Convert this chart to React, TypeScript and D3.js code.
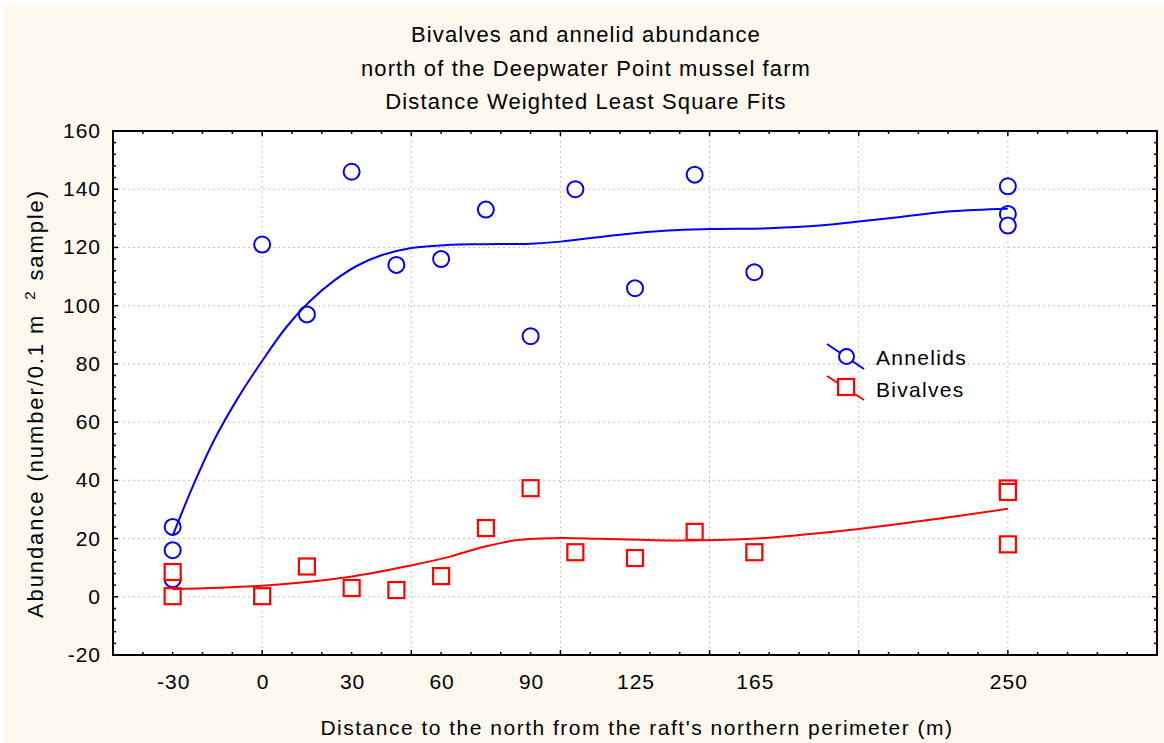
import React from "react";
import * as d3 from "d3";

// ---- Data ----
const annelidX = [-30, -30, -30, 0, 15, 30, 45, 60, 75, 90, 105, 125, 145, 165, 250, 250, 250];
const annelidY = [24, 16, 6, 121, 97, 146, 114, 116, 133, 89.5, 140, 106, 145, 111.5, 141, 131.5, 127.5];

const bivalveX = [-30, -30, 0, 15, 30, 45, 60, 75, 90, 105, 125, 145, 165, 250, 250, 250];
const bivalveY = [8.5, 0.2, 0.2, 10.4, 3, 2.3, 7.1, 23.6, 37.3, 15.3, 13.3, 22.3, 15.3, 37.2, 36, 18];

// DWLS fitted curves
const annelidFitX = [-30, -23, -16, -8, 0, 8, 16, 24, 32, 40, 50, 63, 74, 90, 100, 120, 136, 150, 170, 187, 200, 215, 231, 250];
const annelidFitY = [21, 38.5, 54, 68.5, 81, 92.5, 101.5, 108.5, 113.8, 117.3, 119.8, 120.9, 121.1, 121.3, 122, 124.4, 125.8, 126.3, 126.6, 127.5, 128.9, 130.6, 132.4, 133.3];

const bivalveFitX = [-30, 0, 29, 49, 63, 74, 85, 100, 113, 120, 142, 164, 181, 200, 226, 250];
const bivalveFitY = [2.6, 3.8, 6.8, 10.6, 13.8, 17.1, 19.4, 20.2, 19.9, 19.8, 19.3, 19.9, 21.3, 23.3, 26.7, 30.2];

const xTickLabels = [-30, 0, 30, 60, 90, 125, 165, 250];
const yTickLabels = [-20, 0, 20, 40, 60, 80, 100, 120, 140, 160];

const titleLines = [
  "Bivalves and annelid abundance",
  "north of the Deepwater Point mussel farm",
  "Distance Weighted Least Square Fits",
];
const legendNames = ["Annelids", "Bivalves"];

const W = 1164;
const H = 743;
const FONT = "'Liberation Sans', Arial, sans-serif";

export default function App() {
  const left = 113, right = 1157, top = 131, bottom = 655;
  const x = d3.scaleLinear().domain([-50, 300]).range([left, right]);
  const y = d3.scaleLinear().domain([-20, 160]).range([bottom, top]);

  const line = d3
    .line<[number, number]>()
    .x((d) => x(d[0]))
    .y((d) => y(d[1]))
    .curve(d3.curveCatmullRom.alpha(0.5));

  const annFit = annelidFitX.map((v, i) => [v, annelidFitY[i]] as [number, number]);
  const bivFit = bivalveFitX.map((v, i) => [v, bivalveFitY[i]] as [number, number]);

  const xMinor = d3.range(-50, 301, 10);
  const xMajor = d3.range(-50, 301, 50);
  const yMinor = d3.range(-20, 161, 4);
  const yMajor = d3.range(-20, 161, 20);
  const xGrid = d3.range(0, 251, 50);
  const yGrid = d3.range(0, 141, 20);

  const blue = "#0000ff";
  const red = "#ff0000";
  const sq = 16;

  return (
    <div style={{ position: "absolute", left: 0, top: 0 }}>
      <svg width={W} height={H} style={{ display: "block" }} fontFamily={FONT}>
        <rect x={0} y={0} width={W} height={H} fill="#ffffff" />
        <rect x={4} y={5} width={W - 4} height={H - 5} fill="#fdf9ef" />
        <rect x={left} y={top} width={right - left} height={bottom - top} fill="#ffffff" />

        {/* grid */}
        {xGrid.map((v) => (
          <line key={"gx" + v} x1={x(v)} x2={x(v)} y1={top} y2={bottom} stroke="#c4c4c4" strokeWidth={1} strokeDasharray="2,3" />
        ))}
        {yGrid.map((v) => (
          <line key={"gy" + v} x1={left} x2={right} y1={y(v)} y2={y(v)} stroke="#c4c4c4" strokeWidth={1} strokeDasharray="2,3" />
        ))}

        {/* ticks */}
        {xMinor.map((v) => {
          const len = xMajor.includes(v) ? 5 : 3;
          return (
            <g key={"tx" + v}>
              <line x1={x(v)} x2={x(v)} y1={bottom} y2={bottom - len} stroke="#000" strokeWidth={1.5} />
              <line x1={x(v)} x2={x(v)} y1={top} y2={top + len} stroke="#000" strokeWidth={1.5} />
            </g>
          );
        })}
        {yMinor.map((v) => {
          const len = yMajor.includes(v) ? 5 : 3;
          return (
            <g key={"ty" + v}>
              <line x1={left} x2={left + len} y1={y(v)} y2={y(v)} stroke="#000" strokeWidth={1.5} />
              <line x1={right} x2={right - len} y1={y(v)} y2={y(v)} stroke="#000" strokeWidth={1.5} />
            </g>
          );
        })}

        {/* points: annelids */}
        {annelidX.map((v, i) => (
          <circle key={"a" + i} cx={x(v)} cy={y(annelidY[i])} r={8} fill="#ffffff" stroke={blue} strokeWidth={2} />
        ))}
        {/* points: bivalves */}
        {bivalveX.map((v, i) => (
          <rect key={"b" + i} x={x(v) - sq / 2} y={y(bivalveY[i]) - sq / 2} width={sq} height={sq} fill="#ffffff" stroke={red} strokeWidth={2.2} />
        ))}

        {/* fits */}
        <path d={line(annFit) || ""} fill="none" stroke={blue} strokeWidth={2} />
        <path d={line(bivFit) || ""} fill="none" stroke={red} strokeWidth={2} />

        {/* frame */}
        <rect x={left} y={top} width={right - left} height={bottom - top} fill="none" stroke="#000" strokeWidth={2} />

        {/* y tick labels */}
        {yTickLabels.map((v) => (
          <text key={"yl" + v} x={101} y={y(v) + 7} textAnchor="end" fontSize={21} letterSpacing={1} fill="#000">
            {v}
          </text>
        ))}
        {/* x tick labels */}
        {xTickLabels.map((v) => (
          <text key={"xl" + v} x={x(v) + 1} y={689} textAnchor="middle" fontSize={21} letterSpacing={1} fill="#000">
            {v}
          </text>
        ))}

        {/* titles */}
        {titleLines.map((t, i) => (
          <text key={"t" + i} x={586} y={42 + i * 33.5} textAnchor="middle" fontSize={22} letterSpacing={1.1} fill="#000">
            {t}
          </text>
        ))}

        <text x={637} y={735} textAnchor="middle" fontSize={21} letterSpacing={1.5} fill="#000">
          Distance to the north from the raft's northern perimeter (m)
        </text>

        <text transform="translate(43,618) rotate(-90)" textAnchor="start" fontSize={22} letterSpacing={1.9} fill="#000">
          <tspan>Abundance (number/0.1 m</tspan>
          <tspan fontSize={15} dx={14} dy={-8}>2</tspan>
          <tspan dx={9} dy={8}>sample)</tspan>
        </text>

        {/* legend */}
        <g>
          <line x1={827} y1={344} x2={864} y2={369} stroke={blue} strokeWidth={2} />
          <circle cx={846.5} cy={356.5} r={7.5} fill="#ffffff" stroke={blue} strokeWidth={2} />
          <text x={876} y={365} fontSize={21} letterSpacing={1.3} fill="#000">{legendNames[0]}</text>

          <line x1={827} y1={376} x2={864} y2={400} stroke={red} strokeWidth={2} />
          <rect x={846 - sq / 2} y={387 - sq / 2} width={sq} height={sq} fill="#ffffff" stroke={red} strokeWidth={2.2} />
          <text x={876} y={397} fontSize={21} letterSpacing={1.3} fill="#000">{legendNames[1]}</text>
        </g>
      </svg>
    </div>
  );
}
